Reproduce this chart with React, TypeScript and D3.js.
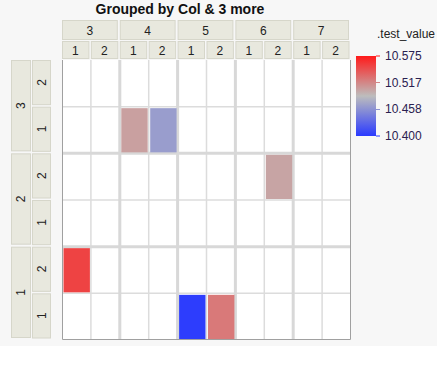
import * as d3 from 'd3'

const colGroups = ['3', '4', '5', '6', '7']
const colSubs = ['1', '2']
const rowGroups = ['3', '2', '1']
const rowSubs = ['2', '1']

// filled cells: column group, column sub, row group, row sub, value
const cellColGroup = ['4', '4', '6', '3', '5', '5']
const cellColSub = ['1', '2', '2', '1', '1', '2']
const cellRowGroup = ['3', '3', '2', '1', '1', '1']
const cellRowSub = ['1', '1', '2', '2', '1', '1']
const cellValue = [10.503, 10.466, 10.501, 10.553, 10.402, 10.524]

const legendTicks = [10.575, 10.517, 10.458, 10.4]

const W = 437
const H = 390
const plot = { left: 62, right: 351, top: 60, bottom: 340 }
const font = '"Liberation Sans", Arial, sans-serif'

export default function App() {
  const xMajor = d3.scaleBand<string>().domain(colGroups).range([plot.left, plot.right])
  const xSub = d3.scaleBand<string>().domain(colSubs).range([0, xMajor.bandwidth()])
  const yMajor = d3.scaleBand<string>().domain(rowGroups).range([plot.top, plot.bottom])
  const ySub = d3.scaleBand<string>().domain(rowSubs).range([0, yMajor.bandwidth()])

  const lo = legendTicks[legendTicks.length - 1]
  const hi = legendTicks[0]
  const color = d3
    .scaleLinear<string>()
    .domain([lo, (lo + hi) / 2, hi])
    .range(['#2a3aff', '#bdbdbd', '#ff1a1a'])
    .clamp(true)

  const leg = { x: 356, w: 20, top: 56, bottom: 136 }
  const yLeg = d3.scaleLinear().domain([lo, hi]).range([leg.bottom, leg.top])

  const headerFill = '#e8e8de'
  const headerStroke = '#d6d6ca'

  return (
    <svg width={W} height={H} style={{ position: 'absolute', left: 0, top: 0 }} fontFamily={font}>
      <defs>
        <linearGradient id="legGrad" x1="0" y1="1" x2="0" y2="0">
          {d3.range(0, 1.001, 0.1).map((t) => (
            <stop key={t} offset={t} stopColor={color(lo + t * (hi - lo))} />
          ))}
        </linearGradient>
      </defs>
      <rect x={0} y={0} width={W} height={346} fill="#f7f7f7" />

      <text x={180} y={14} textAnchor="middle" fontSize={14} fontWeight="bold" fill="#111">
        Grouped by Col &amp; 3 more
      </text>

      {/* top headers */}
      {colGroups.map((g) => {
        const x0 = xMajor(g)!
        return (
          <g key={g}>
            <rect x={x0 + 0.5} y={20.5} width={xMajor.bandwidth() - 3} height={19} fill={headerFill} stroke={headerStroke} />
            <text x={x0 + (xMajor.bandwidth() - 2) / 2} y={35} textAnchor="middle" fontSize={12} fill="#222">{g}</text>
            {colSubs.map((s) => {
              const sx = x0 + xSub(s)!
              return (
                <g key={s}>
                  <rect x={sx + 0.5} y={41.5} width={xSub.bandwidth() - 2.5} height={17} fill={headerFill} stroke={headerStroke} />
                  <text x={sx + (xSub.bandwidth() - 2) / 2} y={55} textAnchor="middle" fontSize={12} fill="#222">{s}</text>
                </g>
              )
            })}
          </g>
        )
      })}

      {/* left headers */}
      {rowGroups.map((g) => {
        const y0 = yMajor(g)!
        const cy = y0 + (yMajor.bandwidth() - 2) / 2
        return (
          <g key={g}>
            <rect x={11.5} y={y0 + 0.5} width={19} height={yMajor.bandwidth() - 3} fill={headerFill} stroke={headerStroke} />
            <text transform={`translate(25,${cy}) rotate(-90)`} textAnchor="middle" fontSize={12} fill="#222">{g}</text>
            {rowSubs.map((s) => {
              const sy = y0 + ySub(s)!
              const scy = sy + (ySub.bandwidth() - 2) / 2
              return (
                <g key={s}>
                  <rect x={32.5} y={sy + 0.5} width={18} height={ySub.bandwidth() - 2.5} fill={headerFill} stroke={headerStroke} />
                  <text transform={`translate(46,${scy}) rotate(-90)`} textAnchor="middle" fontSize={12} fill="#222">{s}</text>
                </g>
              )
            })}
          </g>
        )
      })}

      {/* plot area */}
      <rect x={plot.left} y={plot.top} width={plot.right - plot.left} height={plot.bottom - plot.top} fill="#fff" />

      {/* thin grid lines */}
      {colGroups.flatMap((g) =>
        colSubs.slice(1).map((s) => {
          const x = xMajor(g)! + xSub(s)!
          return <line key={`vx${g}${s}`} x1={x} x2={x} y1={plot.top} y2={plot.bottom} stroke="#dcdcdc" strokeWidth={1.5} />
        })
      )}
      {rowGroups.flatMap((g) =>
        rowSubs.slice(1).map((s) => {
          const y = yMajor(g)! + ySub(s)!
          return <line key={`hy${g}${s}`} x1={plot.left} x2={plot.right} y1={y} y2={y} stroke="#dcdcdc" strokeWidth={1.5} />
        })
      )}
      {/* thick group separators */}
      {colGroups.slice(1).map((g) => {
        const x = xMajor(g)!
        return <line key={`gx${g}`} x1={x} x2={x} y1={plot.top} y2={plot.bottom} stroke="#d8d8d8" strokeWidth={3} />
      })}
      {rowGroups.slice(1).map((g) => {
        const y = yMajor(g)!
        return <line key={`gy${g}`} x1={plot.left} x2={plot.right} y1={y} y2={y} stroke="#d8d8d8" strokeWidth={3} />
      })}

      {/* cells */}
      {cellValue.map((v, i) => {
        const x = xMajor(cellColGroup[i])! + xSub(cellColSub[i])!
        const y = yMajor(cellRowGroup[i])! + ySub(cellRowSub[i])!
        return (
          <rect
            key={i}
            x={x + 1.5}
            y={y + 1.5}
            width={xSub.bandwidth() - 2.5}
            height={ySub.bandwidth() - 2.5}
            fill={color(v)}
          />
        )
      })}

      {/* plot border */}
      <path
        d={`M${plot.left + 0.5},${plot.top}V${plot.bottom - 0.5}H${plot.right - 0.5}V${plot.top}`}
        fill="none"
        stroke="#a0a0a0"
      />

      {/* legend */}
      <text x={377} y={38} fontSize={12} fill="#222">.test_value</text>
      <rect x={leg.x} y={leg.top} width={leg.w} height={leg.bottom - leg.top} fill="url(#legGrad)" />
      {legendTicks.map((t) => (
        <g key={t}>
          <line x1={leg.x + leg.w} x2={leg.x + leg.w + 4} y1={yLeg(t)} y2={yLeg(t)} stroke={color(t)} />
          <text x={385} y={yLeg(t) + 4} fontSize={12} fill="#2a2050">{t.toFixed(3)}</text>
        </g>
      ))}
    </svg>
  )
}
